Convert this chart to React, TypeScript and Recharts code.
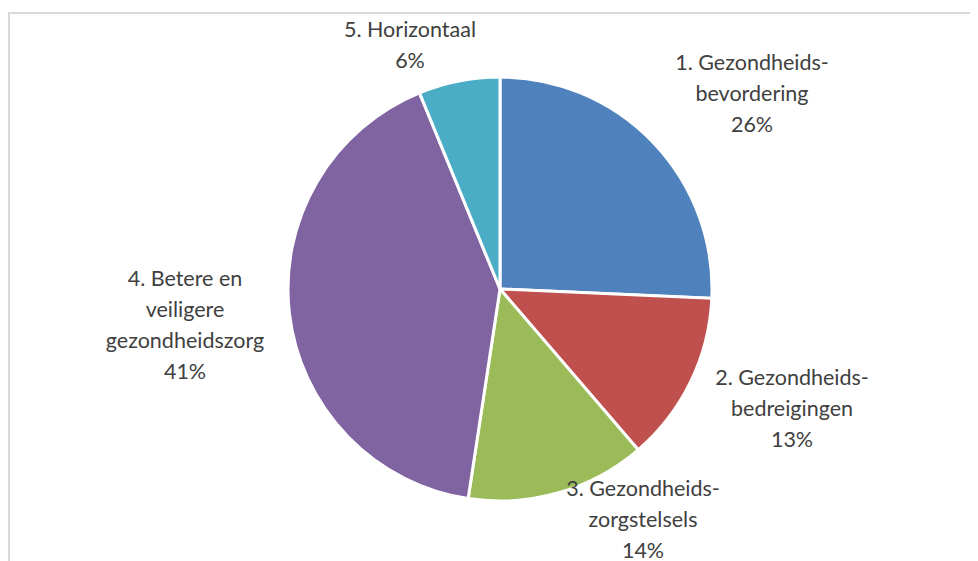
import React from 'react';
import { PieChart, Pie, Cell } from 'recharts';

const categories = [
  ['1. Gezondheids-', 'bevordering'],
  ['2. Gezondheids-', 'bedreigingen'],
  ['3. Gezondheids-', 'zorgstelsels'],
  ['4. Betere en', 'veiligere', 'gezondheidszorg'],
  ['5. Horizontaal'],
];
const values = [25.7, 13.0, 13.7, 41.4, 6.2];
const colors = ['#4F81BD', '#C0504D', '#9BBB59', '#8064A2', '#4BACC6'];

// label block centre offsets relative to pie centre (layout only)
const labelOffsets: [number, number][] = [
  [252, -196],
  [292, 119],
  [143, 230],
  [-315, 35],
  [-90, -245],
];

const data = categories.map((c, i) => ({ name: c.join(' '), lines: c, value: values[i] }));

const LINE_H = 31;

const renderLabel = (props: any) => {
  const { cx, cy, index, percent } = props;
  const lines: string[] = [...categories[index], `${Math.round(percent * 100)}%`];
  const [dx, dy] = labelOffsets[index];
  const x = cx + dx;
  const y0 = cy + dy - ((lines.length - 1) * LINE_H) / 2;
  return (
    <text
      key={`l${index}`}
      x={x}
      y={y0}
      textAnchor="middle"
      dominantBaseline="central"
      fill="#404040"
      style={{ fontFamily: 'Lato, sans-serif', fontSize: 21.5 }}
    >
      {lines.map((l, i) => (
        <tspan key={i} x={x} y={y0 + i * LINE_H}>
          {l}
        </tspan>
      ))}
    </text>
  );
};

export default function App() {
  return (
    <div style={{ position: 'relative', width: 970, height: 553, overflow: 'hidden', background: '#fff' }}>
      <div
        style={{
          position: 'absolute',
          left: 0,
          top: 4,
          width: 1000,
          height: 700,
          borderLeft: '2px solid #d9d9d9',
          borderTop: '2px solid #d9d9d9',
          boxSizing: 'border-box',
        }}
      />
      <div style={{ position: 'absolute', left: 0, top: 0 }}>
        <PieChart width={970} height={553} margin={{ top: 0, right: 0, bottom: 0, left: 0 }}>
          <Pie
            data={data}
            dataKey="value"
            nameKey="name"
            cx={492}
            cy={281}
            outerRadius={212}
            startAngle={90}
            endAngle={-270}
            stroke="#ffffff"
            strokeWidth={3}
            label={renderLabel}
            labelLine={false}
            isAnimationActive={false}
          >
            {data.map((d, i) => (
              <Cell key={d.name} fill={colors[i]} />
            ))}
          </Pie>
        </PieChart>
      </div>
    </div>
  );
}
